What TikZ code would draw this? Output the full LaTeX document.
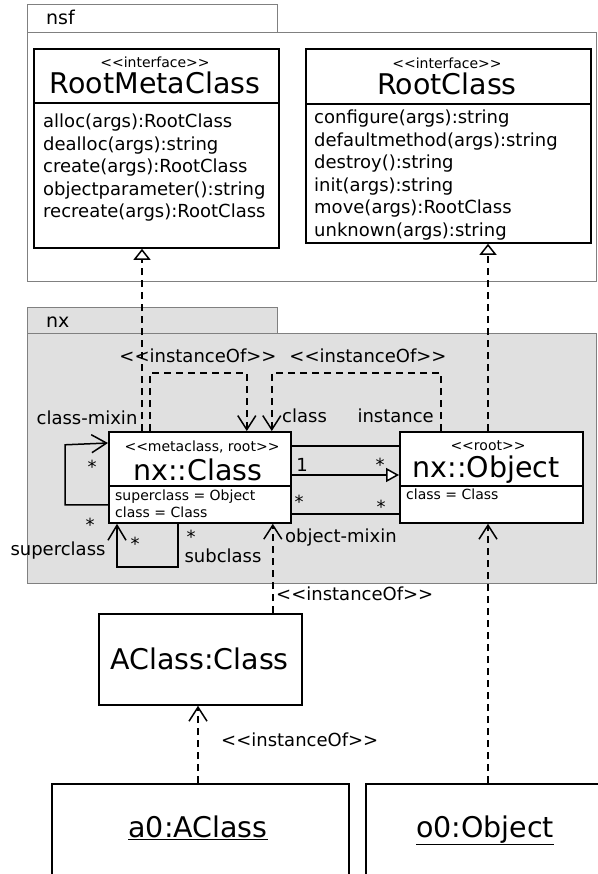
\documentclass[tikz,border=0pt]{standalone}
\usepackage{fontspec}
\setmainfont{DejaVu Sans}
\usetikzlibrary{arrows.meta}

\begin{document}
\begin{tikzpicture}[x=1pt, y=-1pt,
  pkg/.style={draw=black!50, line width=1.4pt, anchor=north west, inner sep=0pt},
  umlbox/.style={draw=black, line width=1.8pt, fill=white, anchor=north west, inner sep=0pt},
  sep/.style={black, line width=1.8pt},
  big/.style={font=\fontsize{28.5}{34}\selectfont, inner sep=0pt, anchor=base},
  mid/.style={font=\fontsize{18}{22.5}\selectfont, inner sep=0pt, anchor=base},
  small/.style={font=\fontsize{14}{17}\selectfont, inner sep=0pt, anchor=base},
  realize/.style={line width=1.5pt, dash pattern=on 7pt off 5pt, -{Triangle[fill=white, length=11pt, width=17pt]}},
  inst/.style={line width=1.5pt, dash pattern=on 7pt off 5pt, -{Straight Barb[length=14pt, width=18pt]}},
  assoc/.style={line width=1.5pt},
  navig/.style={line width=1.5pt, -{Straight Barb[length=15pt, width=18pt]}},
  gen/.style={line width=1.5pt, -{Triangle[fill=white, length=13pt, width=14pt]}}]
\useasboundingbox (0,0) rectangle (597,874);

% packages
\node[pkg, fill=white, minimum width=569pt, minimum height=249pt] (nsf) at (27,32) {};
\node[pkg, fill=white, minimum width=250pt, minimum height=28pt] (nsftab) at (27,4) {};
\node[mid, font=\fontsize{19}{22}\selectfont, anchor=base west] (nsflbl) at (46,25) {nsf};

\node[pkg, fill=black!12, minimum width=569pt, minimum height=250pt] (nx) at (27,333) {};
\node[pkg, fill=black!12, minimum width=250pt, minimum height=26pt] (nxtab) at (27,307) {};
\node[mid, font=\fontsize{19}{22}\selectfont, anchor=base west] (nxlbl) at (46,327) {nx};

% RootMetaClass
\node[umlbox, minimum width=245pt, minimum height=199pt] (rmc) at (33,48) {};
\draw[sep] ([yshift=-55pt]rmc.north west) -- ([yshift=-55pt]rmc.north east);
\node[small] (rmcst) at (155,68) {<{}<interface>{}>};
\node[big] (rmcname) at (155,94) {RootMetaClass};
\node[mid, align=left, anchor=north west] (rmcops) at (43,114)
  {alloc(args):RootClass\\dealloc(args):string\\create(args):RootClass\\objectparameter():string\\recreate(args):RootClass};

% RootClass
\node[umlbox, minimum width=285pt, minimum height=194pt] (rc) at (305,48) {};
\draw[sep] ([yshift=-56pt]rc.north west) -- ([yshift=-56pt]rc.north east);
\node[small] (rcst) at (447,69) {<{}<interface>{}>};
\node[big] (rcname) at (447,95) {RootClass};
\node[mid, align=left, anchor=north west] (rcops) at (314,110)
  {configure(args):string\\defaultmethod(args):string\\destroy():string\\init(args):string\\move(args):RootClass\\unknown(args):string};

% nx::Class
\node[umlbox, minimum width=182pt, minimum height=91pt] (cls) at (108,431) {};
\draw[sep] ([yshift=-55pt]cls.north west) -- ([yshift=-55pt]cls.north east);
\node[small] (clsst) at (202,451) {<{}<metaclass, root>{}>};
\node[big] (clsname) at (198,480) {nx::Class};
\node[small, align=left, anchor=north west] (clsattr) at (115,489.5)
  {superclass = Object\\class = Class};

% nx::Object
\node[umlbox, minimum width=183pt, minimum height=91pt] (obj) at (399,431) {};
\draw[sep] ([yshift=-55pt]obj.north west) -- ([yshift=-55pt]obj.north east);
\node[small] (objst) at (488,450) {<{}<root>{}>};
\node[big] (objname) at (486,477) {nx::Object};
\node[small, anchor=base west] (objattr) at (406,499) {class = Class};

% instances
\node[umlbox, minimum width=203pt, minimum height=91pt] (acls) at (98,613) {};
\node[big] (aclsname) at (199.5,669) {AClass:Class};
\node[umlbox, minimum width=297pt, minimum height=100pt] (a0) at (51,783) {};
\node[big] (a0name) at (198,837) {\underline{a0:AClass}};
\node[umlbox, minimum width=240pt, minimum height=100pt] (o0) at (365,783) {};
\node[big] (o0name) at (485,837) {\underline{o0:Object}};

% links
\draw[realize] ([xshift=34pt]cls.north west) -- ([xshift=34pt]cls.north west |- rmc.south);
\draw[realize] ([xshift=89pt]obj.north west) -- ([xshift=89pt]obj.north west |- rc.south);
\draw[inst] ([xshift=42pt]cls.north west) -- ++(0,-58) -| ([xshift=-45pt]cls.north east);
\draw[inst] ([xshift=42pt]obj.north west) -- ++(0,-58) -| ([xshift=-20pt]cls.north east);
\draw[assoc] ([yshift=-15pt]cls.north east) -- ([yshift=-15pt]cls.north east -| obj.west);
\draw[gen] ([yshift=-44pt]cls.north east) -- ([yshift=-44pt]cls.north east -| obj.west);
\draw[assoc] ([yshift=10pt]cls.south east) -- ([yshift=10pt]cls.south east -| obj.west);
\draw[navig] ([yshift=19pt]cls.south west) -- ++(-43,0) -- ++(0,-60) -- ([yshift=-12pt]cls.north west);
\draw[navig] ([xshift=70pt]cls.south west) -- ++(0,43) -- ++(-61,0) -- ([xshift=9pt]cls.south west);
\draw[inst] ([xshift=-30pt]acls.north east) -- ([xshift=-30pt]acls.north east |- cls.south);
\draw[inst] (a0.north -| a0name) -- (a0name |- acls.south);
\draw[inst] ([xshift=123pt]o0.north west) -- ([xshift=123pt]o0.north west |- obj.south);

% labels
\node[mid] (io1) at (198,362) {<{}<instanceOf>{}>};
\node[mid] (io2) at (368,362) {<{}<instanceOf>{}>};
\node[mid, anchor=base west] (lclass) at (282,422) {class};
\node[mid, anchor=base east] (linst) at (434,422) {instance};
\node[mid] (lcm) at (87,424) {class-mixin};
\node[mid] (m1) at (302,471) {1};
\node[mid] (m2) at (380,471) {*};
\node[mid] (m3) at (299,508) {*};
\node[mid] (m4) at (381,513) {*};
\node[mid] (m5) at (92,473) {*};
\node[mid] (m6) at (90,531) {*};
\node[mid] (m7) at (135,550) {*};
\node[mid] (m8) at (191,543) {*};
\node[mid] (lsup) at (58,555) {superclass};
\node[mid] (lsub) at (223,562) {subclass};
\node[mid, anchor=base west] (lom) at (285,542) {object-mixin};
\node[mid, anchor=base west] (io3) at (276,600) {<{}<instanceOf>{}>};
\node[mid, anchor=base west] (io4) at (221,746) {<{}<instanceOf>{}>};
\end{tikzpicture}
\end{document}
